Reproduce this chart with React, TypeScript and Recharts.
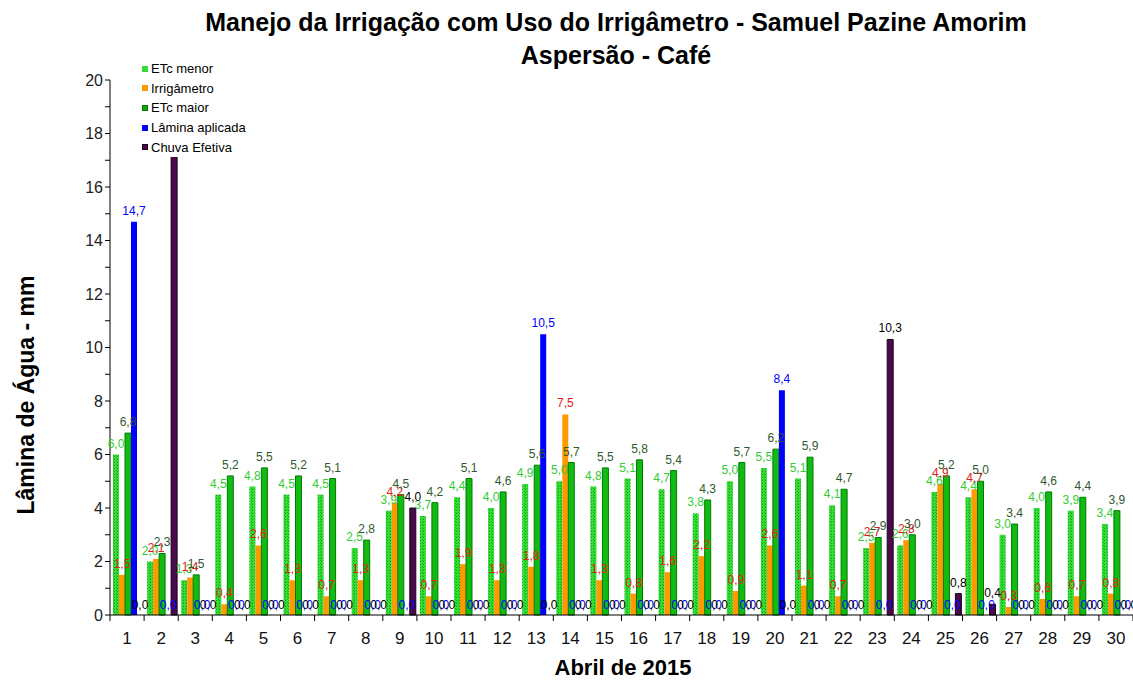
import React from "react";
import { BarChart, Bar, XAxis, YAxis, Legend, LabelList } from "recharts";

// Abril de 2015 - dias
const days = [
  "1", "2", "3", "4", "5", "6", "7", "8", "9", "10",
  "11", "12", "13", "14", "15", "16", "17", "18", "19", "20",
  "21", "22", "23", "24", "25", "26", "27", "28", "29", "30",
];

// lâminas em mm
const etcMenor = [6.0, 2.0, 1.3, 4.5, 4.8, 4.5, 4.5, 2.5, 3.9, 3.7, 4.4, 4.0, 4.9, 5.0, 4.8, 5.1, 4.7, 3.8, 5.0, 5.5, 5.1, 4.1, 2.5, 2.6, 4.6, 4.4, 3.0, 4.0, 3.9, 3.4];
const irrigametro = [1.5, 2.1, 1.4, 0.4, 2.6, 1.3, 0.7, 1.3, 4.2, 0.7, 1.9, 1.3, 1.8, 7.5, 1.3, 0.8, 1.6, 2.2, 0.9, 2.6, 1.1, 0.7, 2.7, 2.8, 4.9, 4.7, 0.3, 0.6, 0.7, 0.8];
const etcMaior = [6.8, 2.3, 1.5, 5.2, 5.5, 5.2, 5.1, 2.8, 4.5, 4.2, 5.1, 4.6, 5.6, 5.7, 5.5, 5.8, 5.4, 4.3, 5.7, 6.2, 5.9, 4.7, 2.9, 3.0, 5.2, 5.0, 3.4, 4.6, 4.4, 3.9];
const laminaAplicada = [14.7, 0, 0, 0, 0, 0, 0, 0, 0, 0, 0, 0, 10.5, 0, 0, 0, 0, 0, 0, 8.4, 0, 0, 0, 0, 0, 0, 0, 0, 0, 0];
const chuvaEfetiva = [0, 17.2, 0, 0, 0, 0, 0, 0, 4.0, 0, 0, 0, 0, 0, 0, 0, 0, 0, 0, 0, 0, 0, 10.3, 0, 0.8, 0.4, 0, 0, 0, 0];

const yTicks = [0, 1, 2, 3, 4, 5, 6, 7, 8, 9, 10, 11, 12, 13, 14, 15, 16, 17, 18, 19, 20];

const data = days.map((d, i) => ({
  dia: d,
  etcMenor: etcMenor[i],
  irrig: irrigametro[i],
  etcMaior: etcMaior[i],
  lamina: laminaAplicada[i],
  chuva: chuvaEfetiva[i],
}));

const FONT = "'Liberation Sans', Arial, sans-serif";
const W = 1133;
const H = 682;
const LEFT = 110;
const STEP = (W - LEFT) / days.length;

const series = [
  { key: "etcMenor", name: "ETc menor", fill: "url(#dotsGreen)", stroke: "none", swatch: "#33dd33", label: "#33cc33" },
  { key: "irrig", name: "Irrigâmetro", fill: "#ff9900", stroke: "none", swatch: "#ff9900", label: "#e02020" },
  { key: "etcMaior", name: "ETc maior", fill: "#11bb11", stroke: "#007a00", swatch: "#11aa11", label: "#2d5a2d" },
  { key: "lamina", name: "Lâmina aplicada", fill: "#0000ff", stroke: "none", swatch: "#0000ff", label: "#0000ff" },
  { key: "chuva", name: "Chuva Efetiva", fill: "#4a0a4a", stroke: "#1a001a", swatch: "#4a0a4a", label: "#000000" },
];

const fmt = (v: any) => Number(v).toFixed(1).replace(".", ",");

function LegendBox() {
  return (
    <div style={{ fontFamily: FONT, fontSize: 13, color: "#000", background: "#fff", paddingRight: 4 }}>
      {series.map((s) => (
        <div key={s.key} style={{ height: 19.7, lineHeight: "19.7px", whiteSpace: "nowrap" }}>
          <span
            style={{
              display: "inline-block",
              width: 6,
              height: 6,
              marginRight: 3,
              background: s.swatch,
              border: s.stroke === "none" ? "none" : `1px solid ${s.stroke}`,
              boxSizing: "border-box",
              verticalAlign: "middle",
              position: "relative",
              top: -1,
            }}
          />
          {s.name}
        </div>
      ))}
    </div>
  );
}

function DayTick(props: any) {
  const { x, y, payload, index } = props;
  return (
    <g>
      {index === 0 && <line x1={x - STEP / 2} x2={x - STEP / 2} y1={y} y2={y + 6} stroke="#000" />}
      <line x1={x + STEP / 2} x2={x + STEP / 2} y1={y} y2={y + 6} stroke="#000" />
      <text x={x} y={y + 29} textAnchor="middle" fontSize={17} fontFamily={FONT} fill="#111">
        {payload.value}
      </text>
    </g>
  );
}

// rótulos "0,0" das séries Lâmina e Chuva (barras de altura zero não recebem rótulo)
function ZeroLabels(props: any) {
  const vb = props.viewBox && props.viewBox.width !== undefined ? props.viewBox : props;
  const { x, y, width, height } = vb;
  const i = props.index;
  if (i === undefined || x === undefined) return null;
  const base = y + height - 6;
  return (
    <g fontFamily={FONT} fontSize={12} textAnchor="middle">
      {laminaAplicada[i] === 0 && (
        <text x={x + width * 1.5} y={base} fill="#0000ff">
          {fmt(0)}
        </text>
      )}
      {chuvaEfetiva[i] === 0 && (
        <text x={x + width * 2.5} y={base} fill="#000">
          {fmt(0)}
        </text>
      )}
    </g>
  );
}

export default function App() {
  return (
    <div style={{ position: "absolute", left: 0, top: 0, width: W, height: H, background: "#fff", overflow: "hidden" }}>
      {/* Titulo */}
      <div
        style={{
          position: "absolute",
          left: 0,
          top: 6,
          width: 1232,
          textAlign: "center",
          fontFamily: FONT,
          fontWeight: "bold",
          fontSize: 25,
          lineHeight: "33px",
          color: "#000",
        }}
      >
        Manejo da Irrigação com Uso do Irrigâmetro - Samuel Pazine Amorim
        <br />
        Aspersão - Café
      </div>

      <BarChart
        width={W}
        height={H}
        data={data}
        margin={{ top: 80, right: 0, bottom: 37, left: 0 }}
        barGap={0}
        barCategoryGap={3}
      >
        <defs>
          <pattern id="dotsGreen" width="3" height="3" patternUnits="userSpaceOnUse">
            <rect width="3" height="3" fill="#33e033" />
            <rect x="0" y="0" width="1" height="1" fill="#119911" />
            <rect x="2" y="2" width="1" height="1" fill="#22aa22" />
          </pattern>
        </defs>
        <XAxis
          dataKey="dia"
          height={30}
          interval={0}
          tickLine={false}
          tickSize={0}
          tickMargin={0}
          tick={<DayTick />}
          axisLine={{ stroke: "#000" }}
        />
        <YAxis
          width={LEFT}
          domain={[0, 20]}
          ticks={yTicks}
          interval={0}
          tickFormatter={(v: number) => (v % 2 === 0 ? String(v) : "")}
          tick={{ fontSize: 16, fill: "#222", fontFamily: FONT }}
          tickSize={5}
          tickLine={{ stroke: "#000" }}
          axisLine={{ stroke: "#000" }}
        />
        <Legend
          layout="vertical"
          align="center"
          verticalAlign="middle"
          content={<LegendBox />}
          wrapperStyle={{ top: 59, left: 142, width: "auto", height: "auto" }}
        />
        {series.map((s) => (
          <Bar
            key={s.key}
            dataKey={s.key}
            name={s.name}
            fill={s.fill}
            stroke={s.stroke}
            strokeWidth={s.stroke === "none" ? 0 : 1}
            isAnimationActive={false}
          >
            <LabelList
              dataKey={s.key}
              position="top"
              offset={7}
              formatter={fmt}
              fill={s.label}
              fontSize={12}
              fontFamily={FONT}
            />
            {s.key === "etcMaior" && <LabelList dataKey="etcMaior" content={<ZeroLabels />} />}
          </Bar>
        ))}
      </BarChart>

      {/* Eixo Y */}
      <div
        style={{
          position: "absolute",
          left: 26,
          top: 395,
          transform: "translate(-50%, -50%) rotate(-90deg)",
          whiteSpace: "nowrap",
          fontFamily: FONT,
          fontWeight: "bold",
          fontSize: 23,
          color: "#000",
        }}
      >
        Lâmina de Água - mm
      </div>

      {/* Eixo X */}
      <div
        style={{
          position: "absolute",
          left: 0,
          top: 655,
          width: 1246,
          textAlign: "center",
          fontFamily: FONT,
          fontWeight: "bold",
          fontSize: 22,
          lineHeight: "26px",
          color: "#000",
        }}
      >
        Abril de 2015
      </div>
    </div>
  );
}
